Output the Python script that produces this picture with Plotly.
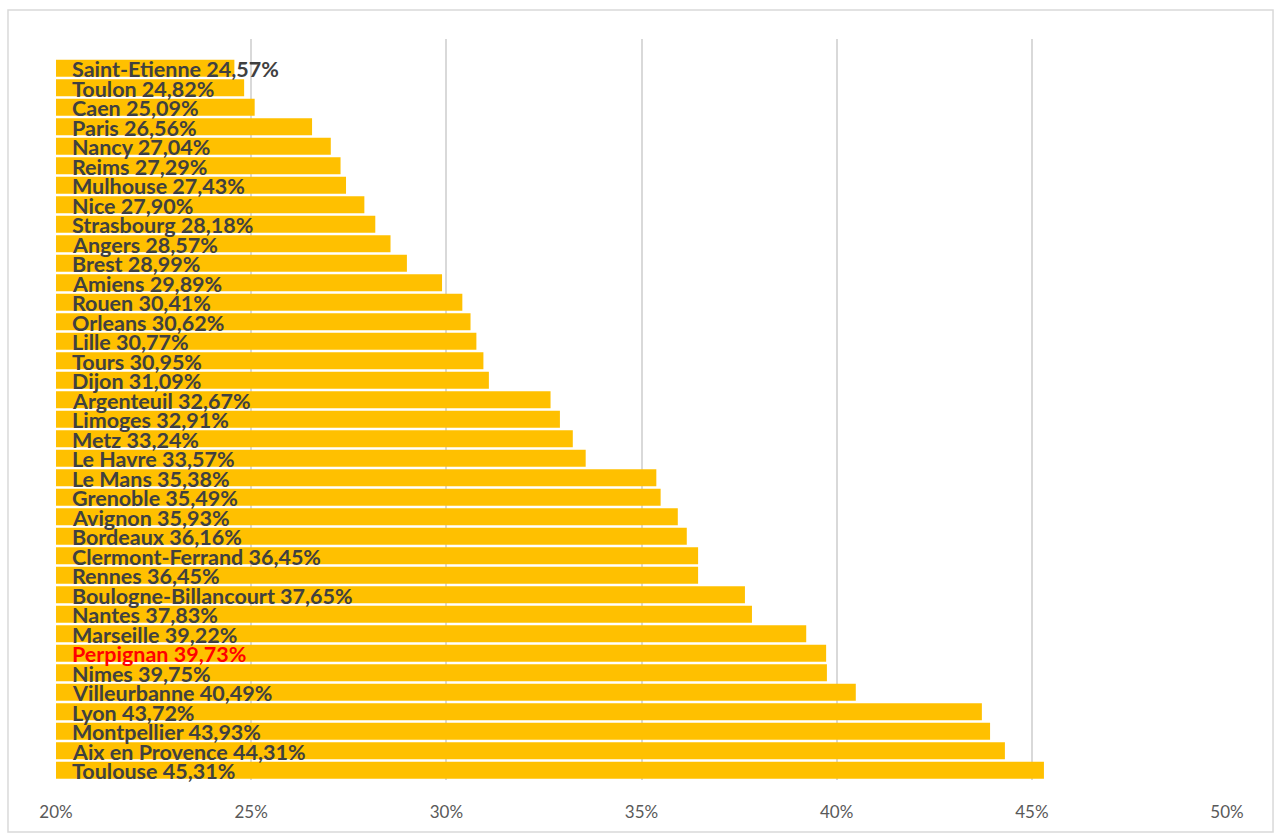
import plotly.graph_objects as go

cities = ["Saint-Etienne", "Toulon", "Caen", "Paris", "Nancy", "Reims", "Mulhouse", "Nice",
          "Strasbourg", "Angers", "Brest", "Amiens", "Rouen", "Orleans", "Lille", "Tours",
          "Dijon", "Argenteuil", "Limoges", "Metz", "Le Havre", "Le Mans", "Grenoble",
          "Avignon", "Bordeaux", "Clermont-Ferrand", "Rennes", "Boulogne-Billancourt",
          "Nantes", "Marseille", "Perpignan", "Nimes", "Villeurbanne", "Lyon", "Montpellier",
          "Aix en Provence", "Toulouse"]
values = [24.57, 24.82, 25.09, 26.56, 27.04, 27.29, 27.43, 27.90, 28.18, 28.57, 28.99,
          29.89, 30.41, 30.62, 30.77, 30.95, 31.09, 32.67, 32.91, 33.24, 33.57, 35.38,
          35.49, 35.93, 36.16, 36.45, 36.45, 37.65, 37.83, 39.22, 39.73, 39.75, 40.49,
          43.72, 43.93, 44.31, 45.31]
highlight = "Perpignan"
tick_vals = [20, 25, 30, 35, 40, 45, 50]
tick_text = ["20%", "25%", "30%", "35%", "40%", "45%", "50%"]

n = len(cities)
ypos = [n - 1 - i for i in range(n)]

fig = go.Figure()
fig.add_trace(go.Bar(
    x=values, y=ypos, orientation="h",
    marker=dict(color="#FFC000", line=dict(width=0)),
    hoverinfo="skip",
))

for c, v, y in zip(cities, values, ypos):
    fig.add_annotation(
        x=20, y=y, xref="x", yref="y",
        text=f"<b>{c} {v:.2f}%</b>".replace(".", ","),
        showarrow=False, xanchor="left", yanchor="middle", xshift=14, yshift=-1,
        font=dict(family="Lato", size=21.5, color="#FF0000" if c == highlight else "#404040"),
    )

fig.add_shape(type="rect", xref="paper", yref="paper",
              x0=-0.041, x1=1.0393, y0=-0.0702, y1=1.0391,
              line=dict(color="#D9D9D9", width=1.5), fillcolor="rgba(0,0,0,0)")

fig.update_layout(
    width=1275, height=833,
    margin=dict(l=56, r=48, t=39, b=53),
    paper_bgcolor="white", plot_bgcolor="white",
    bargap=0.13, showlegend=False,
    xaxis=dict(range=[20, 50], tickvals=tick_vals, ticktext=tick_text,
               showgrid=True, gridcolor="#D9D9D9", gridwidth=1.5, zeroline=False,
               showline=False, ticks="", ticklabelstandoff=20,
               tickfont=dict(family="Lato", size=17, color="#595959")),
    yaxis=dict(range=[-0.5, n + 0.5], showticklabels=False, showgrid=False,
               zeroline=False, showline=False, ticks=""),
)

fig.write_html("out.html")
